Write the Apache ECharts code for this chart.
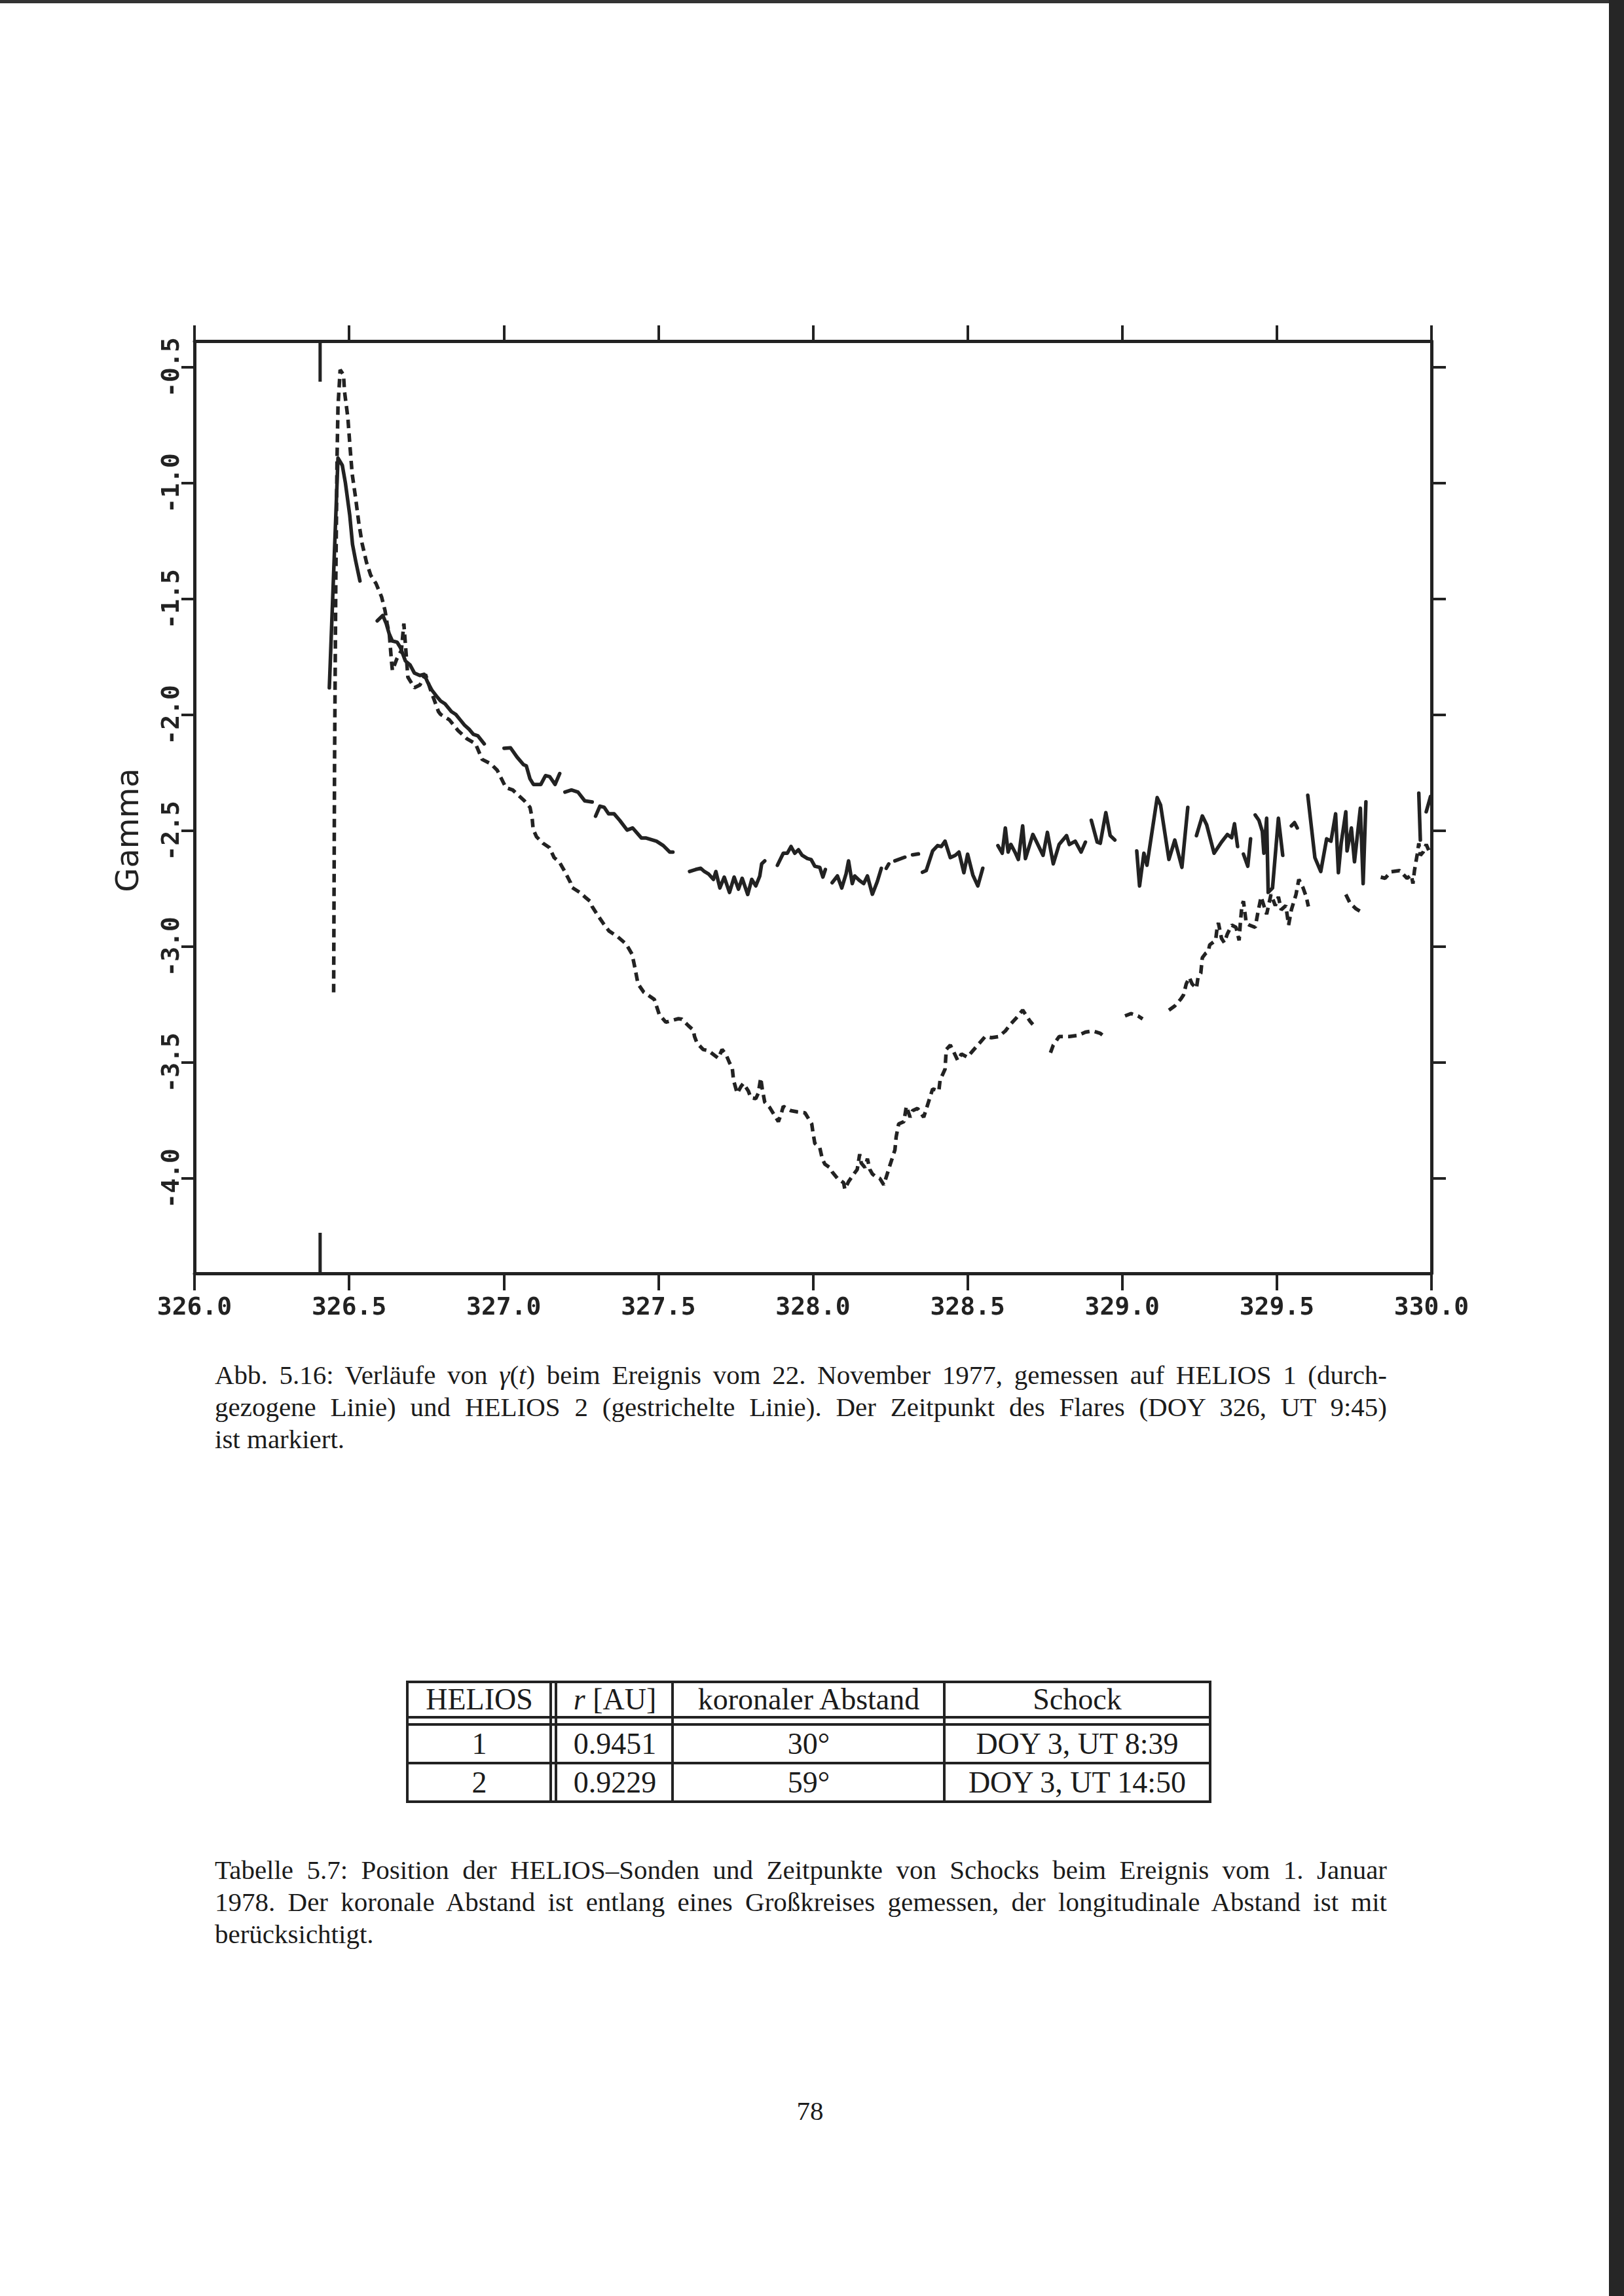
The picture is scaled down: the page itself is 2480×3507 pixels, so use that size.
<!DOCTYPE html>
<html>
<head>
<meta charset="utf-8">
<script src="https://cdn.jsdelivr.net/npm/echarts@6/dist/echarts.min.js"></script>
<style>
  html, body { margin:0; padding:0; background:#ffffff; }
  body { width:2480px; height:3507px; position:relative; overflow:hidden; font-family:"Liberation Serif", serif; color:#1b1b1b; }
  #chart { position:absolute; left:0; top:0; width:2480px; height:2060px; }
  .cap { position:absolute; left:328px; width:1790px; font-size:41px; line-height:49px; }
  .cap div { white-space:nowrap; }
  .cap .j { text-align:justify; text-align-last:justify; }
  .hl { position:absolute; left:620px; width:1230px; height:4px; background:#222; }
  .vl { position:absolute; top:2567px; height:187px; width:4px; background:#222; }
  .cell { position:absolute; height:56px; display:flex; align-items:center; justify-content:center; font-size:46px; white-space:nowrap; transform:translateX(-50%); }
</style>
</head>
<body>
<div style="position:absolute;left:0;top:0;width:2460px;height:5px;background:#333;"></div>
<div style="position:absolute;left:2457px;top:0;width:23px;height:3507px;background:#262626;"></div>
<div id="chart"></div>

<div class="cap" style="top:2076px;">
  <div class="j">Abb. 5.16: Verläufe von <i>γ</i>(<i>t</i>) beim Ereignis vom 22. November 1977, gemessen auf HELIOS 1 (durch-</div>
  <div class="j">gezogene Linie) und HELIOS 2 (gestrichelte Linie). Der Zeitpunkt des Flares (DOY 326, UT 9:45)</div>
  <div>ist markiert.</div>
</div>

<div id="table">
  <div class="hl" style="top:2567px;"></div>
  <div class="hl" style="top:2621px;"></div>
  <div class="hl" style="top:2632px;"></div>
  <div class="hl" style="top:2691px;"></div>
  <div class="hl" style="top:2750px;"></div>
  <div class="vl" style="left:620px;"></div>
  <div class="vl" style="left:839px;"></div>
  <div class="vl" style="left:847px;"></div>
  <div class="vl" style="left:1025px;"></div>
  <div class="vl" style="left:1440px;"></div>
  <div class="vl" style="left:1846px;"></div>

  <div class="cell" style="left:732px;top:2567px;">HELIOS</div>
  <div class="cell" style="left:939px;top:2567px;"><i>r</i>&nbsp;[AU]</div>
  <div class="cell" style="left:1235px;top:2567px;">koronaler Abstand</div>
  <div class="cell" style="left:1645px;top:2567px;">Schock</div>

  <div class="cell" style="left:732px;top:2635px;">1</div>
  <div class="cell" style="left:939px;top:2635px;">0.9451</div>
  <div class="cell" style="left:1235px;top:2635px;">30°</div>
  <div class="cell" style="left:1645px;top:2635px;">DOY 3, UT 8:39</div>

  <div class="cell" style="left:732px;top:2694px;">2</div>
  <div class="cell" style="left:939px;top:2694px;">0.9229</div>
  <div class="cell" style="left:1235px;top:2694px;">59°</div>
  <div class="cell" style="left:1645px;top:2694px;">DOY 3, UT 14:50</div>
</div>

<div class="cap" style="top:2832px;">
  <div class="j">Tabelle 5.7: Position der HELIOS–Sonden und Zeitpunkte von Schocks beim Ereignis vom 1. Januar</div>
  <div class="j">1978. Der koronale Abstand ist entlang eines Großkreises gemessen, der longitudinale Abstand ist mit</div>
  <div>berücksichtigt.</div>
</div>

<div style="position:absolute;left:1137px;width:200px;top:3200px;text-align:center;font-size:41px;line-height:49px;">78</div>

<script>
// ---------------- data (DOY, gamma); null = data gap ----------------
const xTicks = [326.0, 326.5, 327.0, 327.5, 328.0, 328.5, 329.0, 329.5, 330.0];
const yTicks = [-4.0, -3.5, -3.0, -2.5, -2.0, -1.5, -1.0, -0.5];
const flareDoy = 326.40625;   // DOY 326, UT 9:45

// HELIOS 1 (solid line)
const h1Doy = [
326.436, 326.464, 326.478, 326.488, 326.502, 326.511, 326.521, 326.535, null,
326.591, 326.609, 326.620, 326.630, 326.640, 326.655, 326.666, 326.682, 326.697, 326.711, 326.729, 326.743, 326.754, 326.768, 326.782, 326.796, 326.810, 326.831, 326.845, 326.859, 326.873, 326.888, 326.902, 326.916, 326.937, null,
327.001, 327.022, 327.043, 327.064, 327.073, 327.085, 327.096, 327.120, 327.135, 327.149, 327.166, 327.181, null,
327.198, 327.219, 327.240, 327.262, 327.286, null,
327.297, 327.311, 327.325, 327.339, 327.357, 327.375, 327.399, 327.417, 327.445, 327.459, 327.494, 327.516, 327.537, 327.547, null,
327.601, 327.621, 327.637, 327.649, 327.662, 327.678, 327.686, 327.699, 327.713, 327.730, 327.745, 327.759, 327.771, 327.789, 327.802, 327.815, 327.828, 327.834, 327.844, null,
327.885, 327.904, 327.917, 327.929, 327.941, 327.953, 327.965, 327.982, 327.994, 328.006, 328.022, 328.032, 328.040, null,
328.062, 328.079, 328.093, 328.107, 328.115, 328.127, 328.135, 328.150, 328.164, 328.176, 328.192, 328.208, 328.221, null,
328.237, 328.245, null,
328.265, 328.297, null,
328.322, 328.341, null,
328.354, 328.366, 328.387, 328.403, 328.415, 328.427, 328.444, 328.460, 328.472, 328.488, 328.500, 328.517, 328.533, 328.549, null,
328.598, 328.612, 328.622, 328.631, 328.640, 328.655, 328.664, 328.678, 328.687, 328.711, 328.720, 328.744, 328.758, 328.777, 328.796, 328.820, 328.829, 328.848, 328.867, 328.881, null,
328.900, 328.919, 328.929, 328.947, 328.961, 328.976, null,
329.047, 329.056, 329.070, 329.080, 329.113, 329.124, 329.151, 329.170, 329.193, 329.212, null,
329.240, 329.259, 329.273, 329.297, 329.321, 329.340, 329.354, 329.363, 329.373, null,
329.392, 329.406, 329.415, null,
329.430, 329.442, 329.453, 329.458, 329.467, 329.472, 329.486, 329.505, 329.519, null,
329.547, 329.557, 329.566, null,
329.600, 329.623, 329.642, 329.661, 329.675, 329.690, 329.699, 329.708, 329.723, 329.727, 329.741, 329.751, 329.770, 329.779, 329.788, null,
329.959, 329.964, null,
329.983, 329.997
];
const h1Gamma = [
-1.883, -0.892, -0.923, -0.999, -1.138, -1.264, -1.334, -1.422, null,
-1.594, -1.571, -1.606, -1.652, -1.681, -1.686, -1.710, -1.767, -1.784, -1.819, -1.830, -1.825, -1.859, -1.894, -1.918, -1.940, -1.952, -1.986, -1.998, -2.021, -2.044, -2.062, -2.084, -2.090, -2.125, null,
-2.144, -2.142, -2.182, -2.215, -2.220, -2.276, -2.300, -2.300, -2.262, -2.267, -2.300, -2.253, null,
-2.333, -2.324, -2.333, -2.371, -2.376, null,
-2.437, -2.394, -2.399, -2.427, -2.427, -2.455, -2.497, -2.488, -2.531, -2.531, -2.545, -2.564, -2.592, -2.592, null,
-2.676, -2.667, -2.662, -2.676, -2.686, -2.710, -2.676, -2.747, -2.700, -2.766, -2.700, -2.752, -2.705, -2.775, -2.710, -2.738, -2.695, -2.643, -2.630, null,
-2.649, -2.597, -2.597, -2.568, -2.597, -2.582, -2.606, -2.620, -2.624, -2.653, -2.658, -2.700, -2.667, null,
-2.724, -2.695, -2.747, -2.686, -2.630, -2.728, -2.695, -2.714, -2.728, -2.695, -2.774, -2.719, -2.662, null,
-2.662, -2.643, null,
-2.630, -2.614, null,
-2.604, -2.600, null,
-2.679, -2.672, -2.587, -2.564, -2.568, -2.545, -2.616, -2.606, -2.592, -2.681, -2.601, -2.691, -2.738, -2.662, null,
-2.564, -2.597, -2.488, -2.592, -2.559, -2.597, -2.624, -2.479, -2.620, -2.516, -2.540, -2.606, -2.507, -2.643, -2.559, -2.521, -2.559, -2.545, -2.592, -2.549, null,
-2.455, -2.549, -2.554, -2.422, -2.521, -2.540, null,
-2.587, -2.738, -2.597, -2.649, -2.357, -2.389, -2.624, -2.540, -2.658, -2.399, null,
-2.521, -2.436, -2.474, -2.597, -2.549, -2.516, -2.530, -2.470, -2.568, null,
-2.601, -2.653, -2.535, null,
-2.432, -2.455, -2.503, -2.597, -2.446, -2.766, -2.747, -2.446, -2.606, null,
-2.479, -2.465, -2.488, null,
-2.347, -2.616, -2.676, -2.535, -2.545, -2.427, -2.681, -2.554, -2.418, -2.587, -2.488, -2.634, -2.403, -2.728, -2.375, null,
-2.338, -2.540, null,
-2.418, -2.352
];

// HELIOS 2 (dashed line)
const h2Doy = [
326.450, 326.453, 326.457, 326.461, 326.464, 326.471, 326.482, 326.485, 326.496, 326.503, 326.510, 326.521, 326.531, 326.542, 326.556, 326.570, 326.587, 326.605, 326.616, 326.623, 326.630, 326.637, 326.640, 326.655, 326.669, 326.677, 326.690, 326.711, 326.729, 326.747, 326.761, 326.789, 326.796, 326.824, 326.852, 326.880, 326.909, 326.930, 326.958, 326.979,
327.007, 327.029, 327.067, 327.085, 327.092, 327.095, 327.106, 327.127, 327.148, 327.163, 327.180, 327.198, 327.216, 327.219, 327.247, 327.262, 327.279, 327.286, 327.304, 327.321, 327.340, 327.368, 327.396, 327.415, 327.425, 327.434, 327.453, 327.487, 327.503, 327.524, 327.565, 327.576, 327.597, 327.613, 327.617, 327.625, 327.645, 327.662, 327.694, 327.706, 327.718, 327.730, 327.739, 327.743, 327.747, 327.755, 327.767, 327.775, 327.791, 327.799, 327.815, 327.823, 327.831, 327.836, 327.844, 327.860, 327.888, 327.896, 327.904, 327.929, 327.949, 327.974, 327.996,
328.000, 328.006, 328.022, 328.030, 328.038, 328.054, 328.062, 328.079, 328.099, 328.103, 328.115, 328.135, 328.143, 328.151, 328.156, 328.168, 328.176, 328.184, 328.192, 328.200, 328.216, 328.229, 328.249, 328.265, 328.269, 328.277, 328.294, 328.302, 328.314, 328.322, 328.338, 328.358, 328.387, 328.407, 328.411, 328.427, 328.431, 328.444, 328.455, 328.468, 328.480, 328.499, 328.517, 328.557, 328.577, 328.601, 328.622, 328.638, 328.658, 328.678, 328.702, 328.711, null,
328.768, 328.777, 328.796, 328.829, 328.858, 328.881, 328.905, 328.929, 328.947, null,
329.009, 329.028, 329.051, 329.066, null,
329.151, 329.170, 329.189, 329.198, 329.207, 329.217, 329.226, 329.240, 329.245, 329.254, 329.259, 329.269, 329.278, 329.283, 329.302, 329.307, 329.311, 329.321, 329.330, 329.340, 329.354, 329.368, 329.378, 329.382, 329.387, 329.392, 329.401, 329.411, 329.430, 329.439, 329.449, 329.458, 329.467, 329.481, 329.495, 329.505, 329.514, 329.529, 329.538, 329.547, 329.562, 329.571, 329.585, 329.595, 329.602, null,
329.723, 329.737, 329.756, 329.774, null,
329.836, 329.850, 329.869, 329.897, 329.921, 329.935, 329.940, 329.945, 329.954, 329.959, 329.964, 329.973, 329.983, 329.992
];
const h2Gamma = [
-3.197, -2.192, -1.422, -0.891, -0.672, -0.511, -0.533, -0.603, -0.718, -0.845, -0.961, -1.064, -1.168, -1.260, -1.341, -1.398, -1.433, -1.491, -1.549, -1.606, -1.652, -1.768, -1.808, -1.756, -1.722, -1.606, -1.837, -1.883, -1.871, -1.825, -1.883, -1.986, -1.998, -2.021, -2.067, -2.102, -2.125, -2.192, -2.211, -2.239,
-2.314, -2.324, -2.371, -2.399, -2.446, -2.493, -2.526, -2.554, -2.573, -2.616, -2.635, -2.677, -2.724, -2.743, -2.767, -2.785, -2.804, -2.827, -2.865, -2.898, -2.932, -2.957, -2.989, -3.033, -3.096, -3.160, -3.197, -3.228, -3.293, -3.326, -3.311, -3.313, -3.341, -3.360, -3.388, -3.416, -3.444, -3.449, -3.482, -3.444, -3.463, -3.501, -3.524, -3.576, -3.595, -3.633, -3.604, -3.590, -3.623, -3.652, -3.656, -3.633, -3.567, -3.614, -3.671, -3.694, -3.755, -3.727, -3.689, -3.708, -3.713, -3.717, -3.765,
-3.802, -3.849, -3.868, -3.915, -3.938, -3.953, -3.972, -4.000, -4.019, -4.047, -4.014, -3.976, -3.962, -3.896, -3.934, -3.953, -3.915, -3.962, -3.981, -3.990, -4.000, -4.028, -3.943, -3.877, -3.821, -3.765, -3.755, -3.689, -3.736, -3.708, -3.698, -3.736, -3.614, -3.623, -3.576, -3.529, -3.444, -3.425, -3.454, -3.491, -3.463, -3.477, -3.449, -3.388, -3.393, -3.388, -3.364, -3.336, -3.307, -3.274, -3.322, -3.336, null,
-3.458, -3.425, -3.388, -3.388, -3.383, -3.369, -3.364, -3.374, -3.393, null,
-3.299, -3.289, -3.299, -3.312, null,
-3.274, -3.256, -3.227, -3.209, -3.161, -3.133, -3.161, -3.180, -3.133, -3.115, -3.048, -3.030, -3.021, -2.992, -2.973, -2.917, -2.898, -2.964, -2.983, -2.945, -2.907, -2.917, -2.973, -2.898, -2.823, -2.804, -2.898, -2.907, -2.917, -2.851, -2.785, -2.823, -2.860, -2.775, -2.823, -2.785, -2.841, -2.823, -2.907, -2.841, -2.775, -2.710, -2.747, -2.785, -2.827, null,
-2.775, -2.813, -2.837, -2.851, null,
-2.700, -2.705, -2.677, -2.672, -2.705, -2.691, -2.728, -2.672, -2.601, -2.554, -2.606, -2.592, -2.559, -2.587
];

// ---------------- chart ----------------
const X_MIN = 326, X_MAX = 330, Y_MIN = -4.41, Y_MAX = -0.387;
const MARK_LEN = 0.175;
const INK = '#222222';

function pairs(xs, ys) {
  return xs.map((x, i) => (x === null || ys[i] === null) ? ['-', '-'] : [x, ys[i]]);
}

const tickFont = { fontFamily: 'DejaVu Sans Mono', fontWeight: 'bold', fontSize: 38, color: INK };

const chart = echarts.init(document.getElementById('chart'), null, { renderer: 'canvas' });
chart.setOption({
  animation: false,
  backgroundColor: 'transparent',
  grid: { left: 297, top: 521, width: 1889, height: 1424, containLabel: false },
  xAxis: [
    {
      type: 'value', min: X_MIN, max: X_MAX, interval: 0.5, position: 'bottom',
      axisLine: { show: true, onZero: false, lineStyle: { color: INK, width: 5 } },
      axisTick: { show: true, inside: false, length: 26, lineStyle: { color: INK, width: 4 } },
      axisLabel: Object.assign({ show: true, margin: 34, showMinLabel: true, showMaxLabel: true,
        formatter: v => v.toFixed(1) }, tickFont),
      splitLine: { show: false }
    },
    {
      type: 'value', min: X_MIN, max: X_MAX, interval: 0.5, position: 'top',
      axisLine: { show: true, onZero: false, lineStyle: { color: INK, width: 5 } },
      axisTick: { show: true, inside: false, length: 24, lineStyle: { color: INK, width: 4 } },
      axisLabel: { show: false },
      splitLine: { show: false }
    }
  ],
  yAxis: [
    {
      type: 'value', min: Y_MIN, max: Y_MAX, position: 'left',
      axisLine: { show: true, onZero: false, lineStyle: { color: INK, width: 5 } },
      axisTick: { show: true, inside: false, length: 20, lineStyle: { color: INK, width: 4 }, customValues: yTicks },
      axisLabel: Object.assign({ show: true, rotate: 90, margin: 15, customValues: yTicks,
        formatter: v => Number(v).toFixed(1) }, tickFont),
      splitLine: { show: false },
      name: 'Gamma', nameLocation: 'middle', nameRotate: 90, nameGap: 74,
      nameTextStyle: { fontFamily: 'DejaVu Sans', fontSize: 48, color: INK, padding: [0, 70, 0, 0] }
    },
    {
      type: 'value', min: Y_MIN, max: Y_MAX, position: 'right',
      axisLine: { show: true, onZero: false, lineStyle: { color: INK, width: 5 } },
      axisTick: { show: true, inside: false, length: 22, lineStyle: { color: INK, width: 4 }, customValues: yTicks },
      axisLabel: { show: false },
      splitLine: { show: false }
    }
  ],
  series: [
    {
      name: 'HELIOS 1', type: 'line', xAxisIndex: 0, yAxisIndex: 0,
      data: pairs(h1Doy, h1Gamma), showSymbol: false, symbol: 'none', connectNulls: false,
      lineStyle: { color: INK, width: 5.5, type: 'solid', join: 'round', cap: 'round' },
      z: 3
    },
    {
      name: 'HELIOS 2', type: 'line', xAxisIndex: 0, yAxisIndex: 0,
      data: pairs(h2Doy, h2Gamma), showSymbol: false, symbol: 'none', connectNulls: false,
      lineStyle: { color: INK, width: 5.5, type: [13, 8], cap: 'butt' },
      z: 3
    },
    {
      name: 'Flare', type: 'line', xAxisIndex: 0, yAxisIndex: 0,
      data: [[flareDoy, Y_MAX], [flareDoy, Y_MAX - MARK_LEN], ['-', '-'],
             [flareDoy, Y_MIN + MARK_LEN], [flareDoy, Y_MIN]],
      showSymbol: false, symbol: 'none', connectNulls: false,
      lineStyle: { color: INK, width: 5 }, z: 4
    }
  ]
});
</script>
</body>
</html>
